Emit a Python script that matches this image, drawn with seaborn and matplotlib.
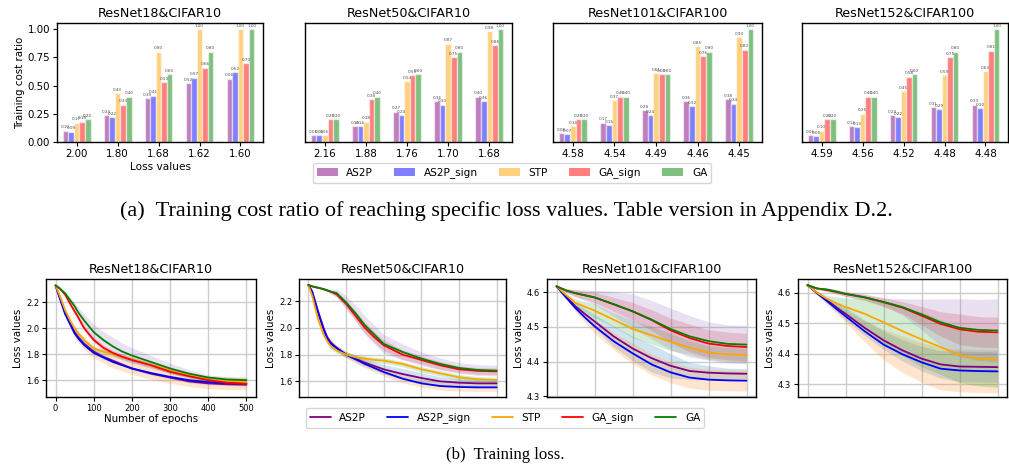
import numpy as np
import pandas as pd
import matplotlib
matplotlib.use("Agg")
import matplotlib.pyplot as plt
import seaborn as sns
from matplotlib.patches import Patch
from matplotlib.lines import Line2D

# ---------------- data ----------------
METHODS = ["AS2P", "AS2P_sign", "STP", "GA_sign", "GA"]
TITLES = ["ResNet18&CIFAR10", "ResNet50&CIFAR10", "ResNet101&CIFAR100", "ResNet152&CIFAR100"]

# (a) training cost ratio at specific loss values
R18_TARGETS = ["2.00", "1.80", "1.68", "1.62", "1.60"]
R18_AS2P = [0.10, 0.24, 0.39, 0.52, 0.56]
R18_AS2P_SIGN = [0.09, 0.22, 0.41, 0.57, 0.62]
R18_STP = [0.17, 0.43, 0.80, 1.00, 1.00]
R18_GA_SIGN = [0.18, 0.33, 0.53, 0.66, 0.70]
R18_GA = [0.20, 0.40, 0.60, 0.80, 1.00]

R50_TARGETS = ["2.16", "1.88", "1.76", "1.70", "1.68"]
R50_AS2P = [0.06, 0.14, 0.27, 0.36, 0.40]
R50_AS2P_SIGN = [0.06, 0.14, 0.24, 0.33, 0.36]
R50_STP = [0.06, 0.18, 0.54, 0.87, 0.98]
R50_GA_SIGN = [0.20, 0.38, 0.59, 0.75, 0.86]
R50_GA = [0.20, 0.40, 0.60, 0.80, 1.00]

R101_TARGETS = ["4.58", "4.54", "4.49", "4.46", "4.45"]
R101_AS2P = [0.08, 0.17, 0.28, 0.36, 0.38]
R101_AS2P_SIGN = [0.07, 0.15, 0.24, 0.32, 0.34]
R101_STP = [0.14, 0.37, 0.61, 0.85, 0.93]
R101_GA_SIGN = [0.20, 0.40, 0.60, 0.76, 0.82]
R101_GA = [0.20, 0.40, 0.60, 0.80, 1.00]

R152_TARGETS = ["4.59", "4.56", "4.52", "4.48", "4.48"]
R152_AS2P = [0.06, 0.14, 0.24, 0.31, 0.33]
R152_AS2P_SIGN = [0.05, 0.13, 0.22, 0.29, 0.30]
R152_STP = [0.10, 0.25, 0.45, 0.59, 0.63]
R152_GA_SIGN = [0.20, 0.40, 0.58, 0.75, 0.81]
R152_GA = [0.20, 0.40, 0.60, 0.80, 1.00]

# (b) training loss curves (mean and spread) at sampled epochs
EPOCHS_FINE = [0, 10, 25, 40, 50, 60, 75, 100, 125, 150, 175, 200, 250, 300, 350, 400, 450, 500]
EPOCHS = [0, 25, 50, 75, 100, 150, 200, 250, 300, 350, 400, 450, 500]

L18_AS2P = [2.33, 2.25, 2.12, 2.03, 1.97, 1.93, 1.88, 1.82, 1.78, 1.75, 1.72, 1.69, 1.65, 1.62, 1.59, 1.575, 1.568, 1.565]
L18_AS2P_SIGN = [2.33, 2.24, 2.11, 2.02, 1.96, 1.92, 1.87, 1.81, 1.775, 1.74, 1.715, 1.69, 1.655, 1.625, 1.60, 1.585, 1.578, 1.575]
L18_STP = [2.33, 2.26, 2.14, 2.05, 2.00, 1.96, 1.91, 1.845, 1.82, 1.80, 1.78, 1.76, 1.72, 1.675, 1.635, 1.605, 1.59, 1.585]
L18_GA_SIGN = [2.33, 2.31, 2.26, 2.18, 2.13, 2.08, 2.00, 1.91, 1.85, 1.81, 1.78, 1.755, 1.715, 1.665, 1.63, 1.60, 1.58, 1.572]
L18_GA = [2.33, 2.31, 2.27, 2.21, 2.17, 2.12, 2.06, 1.97, 1.91, 1.86, 1.82, 1.79, 1.74, 1.69, 1.65, 1.62, 1.605, 1.60]
S18_AS2P = [0, 0.005, 0.01, 0.015, 0.02, 0.02, 0.02, 0.02, 0.018, 0.015, 0.012, 0.01, 0.01, 0.01, 0.01, 0.01, 0.01, 0.01]
S18_AS2P_SIGN = [0, 0.008, 0.015, 0.025, 0.03, 0.032, 0.035, 0.04, 0.042, 0.045, 0.045, 0.045, 0.05, 0.05, 0.05, 0.05, 0.05, 0.05]
S18_STP = [0, 0.005, 0.01, 0.015, 0.02, 0.02, 0.02, 0.02, 0.02, 0.02, 0.02, 0.02, 0.02, 0.02, 0.02, 0.015, 0.015, 0.015]
S18_GA_SIGN = [0, 0.005, 0.01, 0.015, 0.02, 0.02, 0.02, 0.02, 0.02, 0.02, 0.02, 0.02, 0.015, 0.015, 0.01, 0.01, 0.01, 0.01]
S18_GA = [0, 0.005, 0.01, 0.02, 0.03, 0.04, 0.05, 0.06, 0.065, 0.07, 0.065, 0.06, 0.05, 0.04, 0.03, 0.02, 0.02, 0.02]

L50_AS2P = [2.32, 2.27, 2.13, 2.00, 1.93, 1.89, 1.85, 1.80, 1.77, 1.74, 1.715, 1.69, 1.655, 1.625, 1.60, 1.59, 1.585, 1.585]
L50_AS2P_SIGN = [2.32, 2.27, 2.12, 1.99, 1.92, 1.88, 1.85, 1.80, 1.765, 1.73, 1.70, 1.67, 1.62, 1.585, 1.565, 1.558, 1.555, 1.555]
L50_STP = [2.32, 2.24, 2.07, 1.95, 1.90, 1.86, 1.83, 1.80, 1.78, 1.77, 1.76, 1.755, 1.73, 1.69, 1.66, 1.63, 1.615, 1.61]
L50_GA_SIGN = [2.32, 2.31, 2.30, 2.29, 2.28, 2.27, 2.25, 2.18, 2.09, 2.00, 1.93, 1.87, 1.80, 1.76, 1.72, 1.69, 1.678, 1.675]
L50_GA = [2.32, 2.31, 2.30, 2.29, 2.28, 2.27, 2.26, 2.19, 2.11, 2.02, 1.95, 1.88, 1.82, 1.77, 1.73, 1.70, 1.685, 1.68]
S50_AS2P = [0, 0.005, 0.01, 0.015, 0.02, 0.02, 0.02, 0.02, 0.025, 0.03, 0.032, 0.035, 0.04, 0.04, 0.035, 0.03, 0.03, 0.03]
S50_AS2P_SIGN = [0, 0.005, 0.01, 0.015, 0.02, 0.02, 0.02, 0.025, 0.028, 0.03, 0.03, 0.03, 0.03, 0.03, 0.03, 0.03, 0.03, 0.03]
S50_STP = [0, 0.005, 0.01, 0.015, 0.02, 0.02, 0.02, 0.02, 0.02, 0.02, 0.02, 0.02, 0.02, 0.02, 0.02, 0.02, 0.02, 0.02]
S50_GA_SIGN = [0, 0.003, 0.005, 0.008, 0.01, 0.012, 0.02, 0.03, 0.035, 0.04, 0.04, 0.04, 0.035, 0.03, 0.03, 0.025, 0.025, 0.025]
S50_GA = [0, 0.003, 0.005, 0.008, 0.01, 0.015, 0.03, 0.05, 0.06, 0.07, 0.07, 0.07, 0.06, 0.05, 0.045, 0.04, 0.04, 0.04]

L101_AS2P = [4.617, 4.588, 4.559, 4.537, 4.516, 4.473, 4.438, 4.41, 4.388, 4.373, 4.368, 4.366, 4.365]
L101_AS2P_SIGN = [4.617, 4.585, 4.554, 4.527, 4.502, 4.459, 4.424, 4.392, 4.369, 4.354, 4.348, 4.346, 4.345]
L101_STP = [4.617, 4.592, 4.569, 4.558, 4.547, 4.521, 4.494, 4.476, 4.457, 4.44, 4.426, 4.421, 4.419]
L101_GA_SIGN = [4.617, 4.605, 4.597, 4.591, 4.585, 4.565, 4.545, 4.52, 4.49, 4.468, 4.452, 4.445, 4.442]
L101_GA = [4.617, 4.605, 4.597, 4.591, 4.585, 4.566, 4.545, 4.521, 4.494, 4.473, 4.459, 4.451, 4.449]
S101_AS2P = [0, 0.005, 0.01, 0.015, 0.02, 0.03, 0.035, 0.04, 0.035, 0.025, 0.02, 0.015, 0.015]
S101_AS2P_SIGN = [0, 0.005, 0.01, 0.015, 0.02, 0.025, 0.03, 0.03, 0.03, 0.03, 0.03, 0.03, 0.03]
S101_STP = [0, 0.005, 0.01, 0.015, 0.02, 0.02, 0.025, 0.025, 0.025, 0.02, 0.02, 0.02, 0.02]
S101_GA_SIGN = [0, 0.005, 0.01, 0.012, 0.015, 0.02, 0.025, 0.03, 0.035, 0.04, 0.04, 0.04, 0.04]
S101_GA = [0, 0.005, 0.01, 0.015, 0.02, 0.035, 0.05, 0.055, 0.06, 0.06, 0.055, 0.055, 0.055]

L152_AS2P = [4.625, 4.60, 4.576, 4.553, 4.531, 4.485, 4.444, 4.411, 4.384, 4.365, 4.358, 4.357, 4.356]
L152_AS2P_SIGN = [4.625, 4.598, 4.574, 4.548, 4.523, 4.474, 4.43, 4.398, 4.372, 4.351, 4.345, 4.343, 4.342]
L152_STP = [4.625, 4.60, 4.581, 4.566, 4.553, 4.531, 4.503, 4.474, 4.447, 4.422, 4.395, 4.384, 4.38]
L152_GA_SIGN = [4.625, 4.614, 4.609, 4.603, 4.596, 4.585, 4.569, 4.551, 4.525, 4.498, 4.48, 4.472, 4.47]
L152_GA = [4.625, 4.614, 4.611, 4.604, 4.596, 4.585, 4.570, 4.553, 4.529, 4.503, 4.485, 4.478, 4.476]
S152_AS2P = [0, 0.005, 0.01, 0.015, 0.02, 0.025, 0.03, 0.035, 0.04, 0.045, 0.05, 0.05, 0.05]
S152_AS2P_SIGN = [0, 0.005, 0.01, 0.015, 0.02, 0.035, 0.05, 0.06, 0.065, 0.07, 0.07, 0.07, 0.07]
S152_STP = [0, 0.005, 0.01, 0.02, 0.03, 0.05, 0.07, 0.08, 0.09, 0.09, 0.09, 0.09, 0.09]
S152_GA_SIGN = [0, 0.003, 0.005, 0.007, 0.008, 0.01, 0.015, 0.02, 0.03, 0.04, 0.05, 0.05, 0.05]
S152_GA = [0, 0.003, 0.005, 0.007, 0.008, 0.009, 0.012, 0.027, 0.05, 0.077, 0.095, 0.1, 0.104]

# ---------------- styling ----------------
LINE_COLORS = ["purple", "blue", "orange", "red", "green"]
BAND_COLORS = ["tab:blue", "tab:orange", "tab:green", "tab:red", "tab:purple"]

sns.set_style("ticks")
plt.rcParams["font.family"] = ["DejaVu Sans"]
plt.rcParams["axes.edgecolor"] = "black"
plt.rcParams["xtick.color"] = "black"
plt.rcParams["ytick.color"] = "black"
plt.rcParams["axes.labelcolor"] = "black"
plt.rcParams["text.color"] = "black"

W, H = 1009, 469
fig = plt.figure(figsize=(W / 100, H / 100), dpi=100)


def rect(l, r, t, b):
    return [l / W, 1 - b / H, (r - l) / W, (b - t) / H]


bar_sets = [
    (R18_TARGETS, [R18_AS2P, R18_AS2P_SIGN, R18_STP, R18_GA_SIGN, R18_GA]),
    (R50_TARGETS, [R50_AS2P, R50_AS2P_SIGN, R50_STP, R50_GA_SIGN, R50_GA]),
    (R101_TARGETS, [R101_AS2P, R101_AS2P_SIGN, R101_STP, R101_GA_SIGN, R101_GA]),
    (R152_TARGETS, [R152_AS2P, R152_AS2P_SIGN, R152_STP, R152_GA_SIGN, R152_GA]),
]
top_rects = [(57, 263, 23, 142), (305, 512, 23, 142), (553, 762, 23, 142), (802, 1008, 23, 142)]

for k, ((targets, vals), r) in enumerate(zip(bar_sets, top_rects)):
    ax = fig.add_axes(rect(*r))
    rows = []
    for m, v in zip(METHODS, vals):
        for i, y in enumerate(v):
            rows.append({"pos": i, "ratio": y, "method": m})
    df = pd.DataFrame(rows)
    sns.barplot(data=df, x="pos", y="ratio", hue="method", hue_order=METHODS,
                palette=LINE_COLORS, width=0.68, alpha=0.5, saturation=1,
                errorbar=None, legend=False, ax=ax)
    for c in ax.containers:
        ax.bar_label(c, fmt="%.2f", fontsize=3, color="0.3", padding=1)
    ax.set_xticks(range(len(targets)))
    ax.set_xticklabels(targets, fontsize=7.4)
    ax.set_xlim(-0.48, 4.55)
    ax.set_ylim(0, 1.055)
    ax.set_title(TITLES[k], fontsize=9.2, pad=4)
    if k == 0:
        ax.set_ylabel("Training cost ratio", fontsize=7.4, labelpad=2)
        ax.set_xlabel("Loss values", fontsize=7.6, labelpad=2)
        ax.set_yticks([0, 0.25, 0.5, 0.75, 1.0])
        ax.set_yticklabels(["0.00", "0.25", "0.50", "0.75", "1.00"], fontsize=7.4)
    else:
        ax.set_ylabel("")
        ax.set_xlabel("")
        ax.set_yticks([])
    ax.tick_params(length=3, width=0.8, pad=2)
    for s in ax.spines.values():
        s.set_visible(True)
        s.set_linewidth(1.0)

fig.legend(handles=[Patch(facecolor=c, alpha=0.5, edgecolor="none") for c in LINE_COLORS],
           labels=METHODS, ncol=5, fontsize=7.6, loc="center",
           bbox_to_anchor=(512 / W, 1 - 173 / H), frameon=True,
           edgecolor="0.8", fancybox=True, columnspacing=2.0, borderpad=0.4)

fig.text(506 / W, 1 - 211 / H,
         "(a)  Training cost ratio of reaching specific loss values. Table version in Appendix D.2.",
         ha="center", va="center", fontsize=16, family="Liberation Serif")

line_sets = [
    (EPOCHS_FINE, [L18_AS2P, L18_AS2P_SIGN, L18_STP, L18_GA_SIGN, L18_GA],
     [S18_AS2P, S18_AS2P_SIGN, S18_STP, S18_GA_SIGN, S18_GA], (1.47, 2.38), [1.6, 1.8, 2.0, 2.2]),
    (EPOCHS_FINE, [L50_AS2P, L50_AS2P_SIGN, L50_STP, L50_GA_SIGN, L50_GA],
     [S50_AS2P, S50_AS2P_SIGN, S50_STP, S50_GA_SIGN, S50_GA], (1.483, 2.365), [1.6, 1.8, 2.0, 2.2]),
    (EPOCHS, [L101_AS2P, L101_AS2P_SIGN, L101_STP, L101_GA_SIGN, L101_GA],
     [S101_AS2P, S101_AS2P_SIGN, S101_STP, S101_GA_SIGN, S101_GA], (4.298, 4.638), [4.3, 4.4, 4.5, 4.6]),
    (EPOCHS, [L152_AS2P, L152_AS2P_SIGN, L152_STP, L152_GA_SIGN, L152_GA],
     [S152_AS2P, S152_AS2P_SIGN, S152_STP, S152_GA_SIGN, S152_GA], (4.258, 4.645), [4.3, 4.4, 4.5, 4.6]),
]
bot_rects = [(46, 256, 279, 397), (299, 506, 279, 397), (547, 756, 279, 397), (798, 1007, 279, 397)]

for k, ((epochs, means, sds, ylim, yt), r) in enumerate(zip(line_sets, bot_rects)):
    ax = fig.add_axes(rect(*r))
    ax.grid(True, color="0.8", linewidth=1.0)
    ax.set_axisbelow(True)
    ep = np.array(epochs)
    for m, s, bc in zip(means, sds, BAND_COLORS):
        m = np.array(m); s = np.array(s)
        ax.fill_between(ep, m - s, m + s, color=bc, alpha=0.2, linewidth=0)
    rows = []
    for name, m in zip(METHODS, means):
        for e, y in zip(epochs, m):
            rows.append({"epoch": e, "loss": y, "method": name})
    df = pd.DataFrame(rows)
    sns.lineplot(data=df, x="epoch", y="loss", hue="method", hue_order=METHODS,
                 palette=LINE_COLORS, linewidth=1.3, legend=False, ax=ax)
    ax.set_xlim(-25, 525)
    ax.set_ylim(*ylim)
    ax.set_xticks([0, 100, 200, 300, 400, 500])
    ax.set_yticks(yt)
    ax.set_yticklabels([f"{v:.1f}" for v in yt], fontsize=6)
    ax.set_ylabel("Loss values", fontsize=7.4, labelpad=2)
    ax.set_title(TITLES[k], fontsize=9.2, pad=4)
    ax.tick_params(length=3, width=0.8, pad=2)
    if k == 0:
        ax.set_xticklabels(["0", "100", "200", "300", "400", "500"], fontsize=6)
        ax.set_xlabel("Number of epochs", fontsize=7.4, labelpad=1)
    else:
        ax.tick_params(axis="x", labelbottom=False, length=0)
        ax.set_xlabel("")
    for s in ax.spines.values():
        s.set_visible(True)
        s.set_linewidth(1.0)

fig.legend(handles=[Line2D([], [], color=c, linewidth=1.3) for c in LINE_COLORS],
           labels=METHODS, ncol=5, fontsize=7.6, loc="center",
           bbox_to_anchor=(505 / W, 1 - 418 / H), frameon=True,
           edgecolor="0.8", fancybox=True, columnspacing=2.0, borderpad=0.4)

fig.text(505 / W, 1 - 455 / H, "(b)  Training loss.", ha="center", va="center",
         fontsize=12, family="Liberation Serif")

fig.savefig("out.png", dpi=100)
